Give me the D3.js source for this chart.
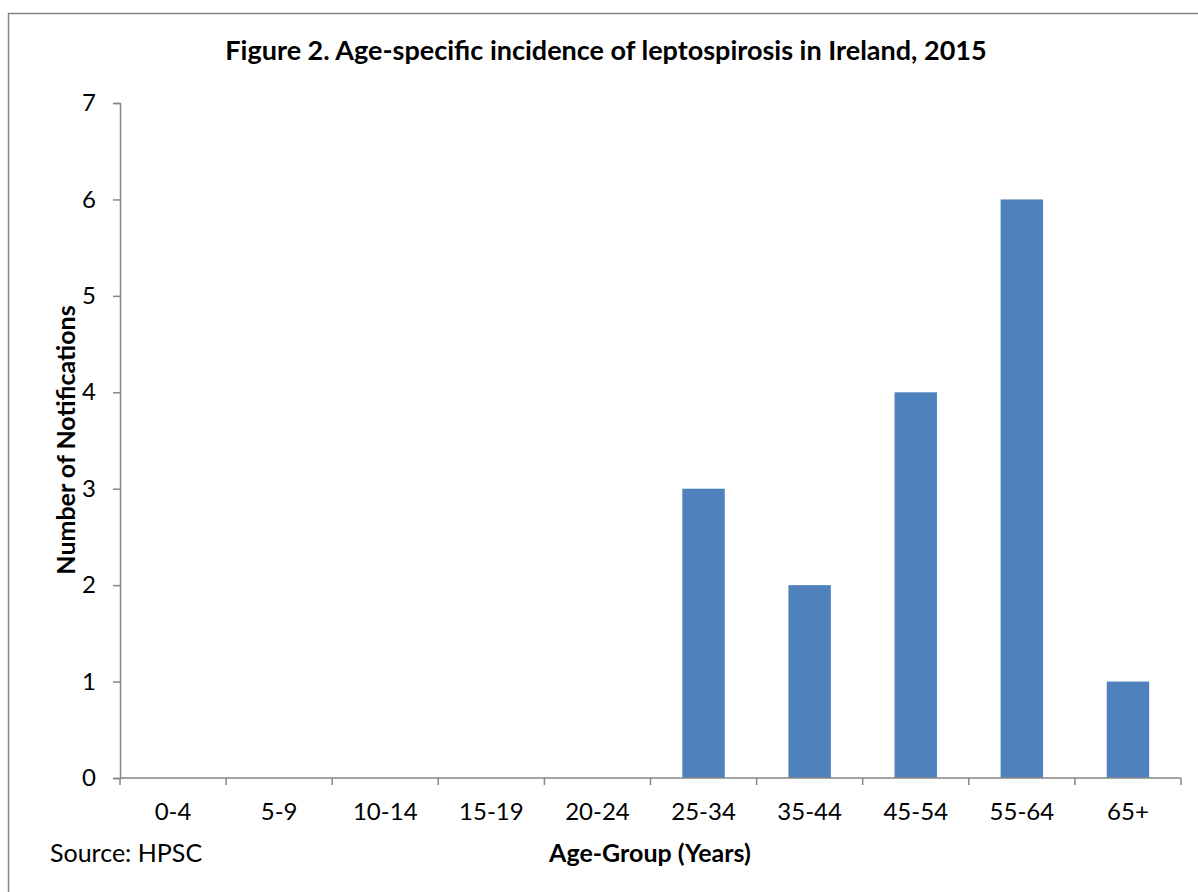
<!DOCTYPE html>
<html>
<head>
<meta charset="utf-8">
<script src="https://cdn.jsdelivr.net/npm/d3@7"></script>
<style>
    body { margin: 0; background: #fff; }
    text { font-family: Lato, "Open Sans", sans-serif; fill: #000; }
</style>
</head>
<body>
<script>
    // ! DATA ! //
    const ageGroups = ["0-4", "5-9", "10-14", "15-19", "20-24", "25-34", "35-44", "45-54", "55-64", "65+"];
    const notifications = [0, 0, 0, 0, 0, 3, 2, 4, 6, 1];
    const yTicks = [0, 1, 2, 3, 4, 5, 6, 7];

    const width = 1198;
    const height = 892;
    const plot = { left: 120, right: 1181, top: 103, bottom: 778 };

    const svg = d3.select("body").append("svg").attr("width", width).attr("height", height);

    // ^ outer frame (only top and left edges are in view) ^ //
    svg.append("path")
        .attr("d", `M8.5,${height} L8.5,13.5 L${width},13.5`)
        .attr("fill", "none")
        .attr("stroke", "#868686")
        .attr("stroke-width", 1.5);

    // ^ scales ^ //
    const x = d3.scaleBand().domain(ageGroups).range([plot.left, plot.right]).paddingInner(0.6).paddingOuter(0.3);
    const y = d3.scaleLinear().domain([0, 7]).range([plot.bottom, plot.top]);

    // ^ bars ^ //
    svg.append("g")
        .selectAll("rect")
        .data(notifications)
        .enter()
        .append("rect")
        .attr("x", (d, i) => x(ageGroups[i]))
        .attr("y", (d) => y(d))
        .attr("width", x.bandwidth())
        .attr("height", (d) => y(0) - y(d))
        .attr("fill", "#4F81BD");

    // ^ y axis ^ //
    const yAxis = svg.append("g")
        .attr("transform", `translate(${plot.left},0)`)
        .call(d3.axisLeft(y).tickValues(yTicks).tickSize(7).tickPadding(17).tickFormat(d3.format("d")));
    yAxis.select(".domain").attr("stroke", "#868686").attr("stroke-width", 1.5);
    yAxis.selectAll(".tick line").attr("stroke", "#868686").attr("stroke-width", 1.5);
    yAxis.selectAll(".tick text").attr("font-size", 24).attr("font-family", "Lato, sans-serif");

    // ^ x axis, ticks at category boundaries ^ //
    const xAxis = svg.append("g")
        .attr("transform", `translate(0,${plot.bottom})`)
        .call(d3.axisBottom(x).tickSize(0).tickPadding(25));
    xAxis.select(".domain").remove();
    xAxis.selectAll(".tick text").attr("font-size", 24).attr("font-family", "Lato, sans-serif");

    const step = x.step();
    const bounds = d3.range(ageGroups.length + 1).map((i) => plot.left + i * step);
    xAxis.append("line")
        .attr("x1", plot.left).attr("x2", plot.right)
        .attr("stroke", "#868686").attr("stroke-width", 1.5);
    xAxis.selectAll(".bound")
        .data(bounds)
        .enter()
        .append("line")
        .attr("class", "bound")
        .attr("x1", (d) => d).attr("x2", (d) => d)
        .attr("y1", 0).attr("y2", 7)
        .attr("stroke", "#868686").attr("stroke-width", 1.5);

    // ^ titles ^ //
    svg.append("text")
        .attr("x", 606).attr("y", 60)
        .attr("text-anchor", "middle")
        .attr("font-size", 27).attr("font-weight", "bold")
        .text("Figure 2. Age-specific incidence of leptospirosis in Ireland, 2015");

    svg.append("text")
        .attr("transform", "translate(75,440) rotate(-90)")
        .attr("text-anchor", "middle")
        .attr("font-size", 25).attr("font-weight", "bold")
        .text("Number of Notifications");

    svg.append("text")
        .attr("x", 650).attr("y", 862)
        .attr("text-anchor", "middle")
        .attr("font-size", 25).attr("font-weight", "bold")
        .text("Age-Group (Years)");

    svg.append("text")
        .attr("x", 50).attr("y", 862)
        .attr("font-size", 25)
        .text("Source: HPSC");
</script>
</body>
</html>
